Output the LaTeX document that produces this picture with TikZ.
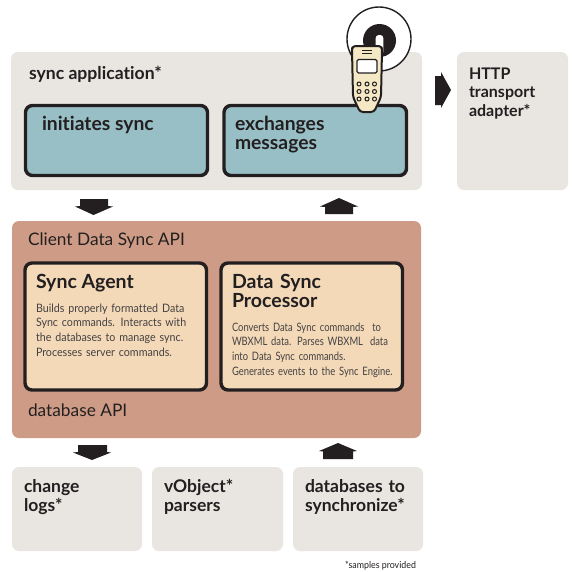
\documentclass[tikz,border=0pt]{standalone}
\usepackage{fontspec}
\setmainfont[Ligatures=NoCommon]{Lato}
\newfontfamily\narrowf[FakeStretch=0.81,WordSpace=0.85,Ligatures=NoCommon]{Lato}
\newfontfamily\narrowg[FakeStretch=0.92,Ligatures=NoCommon]{Lato}
\definecolor{ink}{HTML}{231F20}
\definecolor{greybox}{HTML}{E9E5E1}
\definecolor{tealbox}{HTML}{98BFC5}
\definecolor{clay}{HTML}{CE9C86}
\definecolor{peach}{HTML}{F3D9B8}
\definecolor{phonec}{HTML}{F5E8C4}
\tikzset{
  panel/.style={fill=#1,draw=none,rounded corners=7pt},
  inner box/.style={fill=#1,draw=ink,line width=3.4pt,rounded corners=7pt},
  lab/.style={anchor=base west,inner sep=0pt,outer sep=0pt,text=ink,font=\fontsize{17.3}{20}\selectfont},
  head/.style={lab,font=\fontsize{19.5}{19}\selectfont\bfseries,align=left},
  big/.style={lab,font=\fontsize{17.5}{19}\selectfont\bfseries,align=left},
  large/.style={lab,font=\fontsize{19.3}{19.5}\selectfont\bfseries,align=left},
  small/.style={lab,font=\narrowf\fontsize{11.6}{14.7}\selectfont,align=left,text=ink!85},
  blockarrow/.style={fill=ink,draw=none},
}
\begin{document}
\begin{tikzpicture}[x=1pt,y=-1pt]
\useasboundingbox (0,0) rectangle (572,571);
\fill[white] (0,0) rectangle (572,571);
% panels
\path[panel=greybox] (11,52) rectangle (422,190);
\path[panel=greybox] (457,52) rectangle (568,190);
\path[panel=clay] (12,221) rectangle (421,438);
\path[panel=greybox] (12,467) rectangle (142,551);
\path[panel=greybox] (152,467) rectangle (283,551);
\path[panel=greybox] (293,467) rectangle (423,551);
% inner boxes
\path[inner box=tealbox] (25.5,105.5) rectangle (207.5,175.5);
\path[inner box=tealbox] (224,105.5) rectangle (406.5,175.5);
\path[inner box=peach] (25,263) rectangle (206.5,390);
\path[inner box=peach] (221,263) rectangle (402.5,390);
% block arrows
\path[blockarrow] (80,199) -- (108,199) -- (108,206) -- (113,206.5) -- (93.5,215) -- (75,206.5) -- (80,206) -- cycle;
\path[blockarrow] (325,214) -- (353,214) -- (353,207) -- (358,206.5) -- (339,198) -- (320,206.5) -- (325,207) -- cycle;
\path[blockarrow] (78,445) -- (107,445) -- (107,452) -- (111,452.5) -- (92,460) -- (73,452.5) -- (78,452) -- cycle;
\path[blockarrow] (323,459) -- (353,459) -- (353,451.5) -- (357,451) -- (338,443) -- (319,451) -- (323,451.5) -- cycle;
\path[blockarrow] (435,76) -- (441,76) -- (441,72) -- (451,90) -- (441,108) -- (441,105) -- (435,105) -- cycle;
% phone: signal rings
\draw[ink,line width=1.4pt,fill=white] (379,39) circle (32);
\fill[ink] (379.5,40.5) circle (16.5);
\fill[white,rounded corners=3pt] (375.7,35) rectangle (383.3,55);
% phone body
\draw[ink,line width=2pt,fill=phonec,rounded corners=3pt]
  (352,50) -- (352.5,46) -- (381.5,46) -- (382,50) -- (381,97) -- (374,112) -- (360,112) -- (353,97) -- cycle;
\draw[ink,line width=1pt] (362,50) -- (372,50) (362,53.5) -- (372,53.5);
\draw[ink,line width=1.2pt,fill=white,rounded corners=1.5pt] (357,59.5) rectangle (377,73);
\foreach \py in {84,91.5,99}{\foreach \px in {359,367,374.5}{\draw[ink,line width=1pt] (\px,\py) circle (2);}}
% text
\node[lab,font=\fontsize{17.6}{20}\selectfont\bfseries] (a1) at (29,79) {sync application*};
\node[large] (a2) at (42,130) {initiates sync};
\node[large,text width=120pt] (a3) at (235,130) {exchanges\\messages};
\node[lab,font=\fontsize{16}{18.5}\selectfont\bfseries,align=left,text width=90pt] (h) at (469,79) {HTTP\\transport\\adapter*};
\node[lab] (c1) at (28,245) {Client Data Sync API};
\node[lab] (c2) at (28,416) {database API};
\node[head] (s1) at (36,288) {Sync Agent};
\node[small,font=\narrowg\fontsize{11.6}{14.7}\selectfont,text width=165pt] (s2) at (36,312) {Builds properly formatted Data\\Sync commands. Interacts with\\the databases to manage sync.\\Processes server commands.};
\node[head,text width=160pt] (d1) at (232,288) {Data Sync\\Processor};
\node[small,text width=175pt] (d2) at (232,331) {Converts Data Sync commands\hspace{8pt}to\\WBXML data. Parses WBXML\hspace{7pt}data\\into Data Sync commands.\\Generates events to the Sync Engine.};
\node[big,text width=100pt] (b1) at (24,492) {change\\logs*};
\node[big,text width=100pt] (b2) at (164,492) {vObject*\\parsers};
\node[big,text width=120pt] (b3) at (305,492) {databases to\\synchronize*};
\node[lab,font=\narrowg\fontsize{9.6}{10}\selectfont] (n) at (345,568) {*samples provided};
\end{tikzpicture}
\end{document}
